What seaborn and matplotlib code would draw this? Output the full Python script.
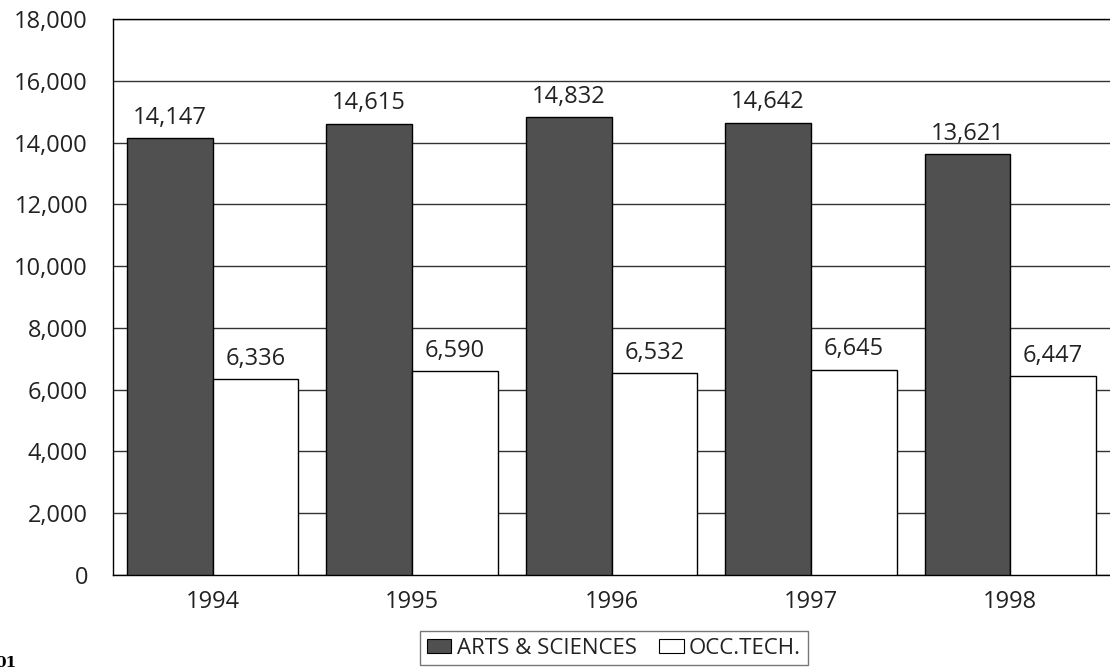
import matplotlib
matplotlib.use("Agg")
import matplotlib.pyplot as plt
import seaborn as sns
import pandas as pd
from matplotlib.patches import Patch

years = ["1994", "1995", "1996", "1997", "1998"]
series_names = ["ARTS & SCIENCES", "OCC.TECH."]
arts_sciences = [14147, 14615, 14832, 14642, 13621]
occ_tech = [6336, 6590, 6532, 6645, 6447]
y_ticks = [0, 2000, 4000, 6000, 8000, 10000, 12000, 14000, 16000, 18000]

df = pd.DataFrame({
    "year": years * 2,
    "series": [series_names[0]] * len(years) + [series_names[1]] * len(years),
    "value": arts_sciences + occ_tech,
})

sns.set_theme(style="white")
plt.rcParams["font.family"] = ["Open Sans", "DejaVu Sans"]

FS = 17
TXT = "#222222"

fig = plt.figure(figsize=(11.1, 6.67), dpi=100)
ax = fig.add_axes([113 / 1110, 1 - 575 / 667, 1 - 113 / 1110, (575 - 19) / 667])

colors = {"ARTS & SCIENCES": "#505050", "OCC.TECH.": "#ffffff"}
sns.barplot(data=df, x="year", y="value", hue="series", palette=colors,
            width=0.86, gap=0, edgecolor="black", linewidth=1.0,
            saturation=1, ax=ax, legend=False, zorder=3)

ax.set_ylim(0, 18000)
ax.set_xlim(-0.5, 4.5)
ax.set_yticks(y_ticks)
ax.set_yticklabels([f"{v:,}" for v in y_ticks])
ax.yaxis.grid(True, color="#333333", linewidth=1.0, zorder=0)
ax.set_axisbelow(True)
ax.set_xlabel("")
ax.set_ylabel("")
ax.tick_params(axis="y", length=0, pad=18, labelsize=FS, colors=TXT)
ax.tick_params(axis="x", length=0, pad=11, labelsize=FS, colors=TXT)
for s in ["left", "bottom", "top"]:
    ax.spines[s].set_color("black")
    ax.spines[s].set_linewidth(1.0)
ax.spines["right"].set_visible(False)

for cont in ax.containers:
    for bar in cont:
        h = bar.get_height()
        ax.annotate(f"{int(round(h)):,}", (bar.get_x() + bar.get_width() / 2, h),
                    xytext=(0, 10.3), textcoords="offset points",
                    ha="center", va="baseline", fontsize=FS, color=TXT)

handles = [Patch(facecolor=colors[n], edgecolor="black", linewidth=0.8) for n in series_names]
leg = fig.legend(handles, series_names, loc="upper center",
                 bbox_to_anchor=(614 / 1110, 1 - 631 / 667), ncol=2,
                 frameon=True, fancybox=False, edgecolor="#555555",
                 fontsize=16, handlelength=1.1, handleheight=0.6,
                 handletextpad=0.25, columnspacing=1.0, borderpad=0.3,
                 borderaxespad=0)
leg.get_frame().set_linewidth(1.0)
for t in leg.get_texts():
    t.set_color(TXT)

fig.text(-0.004, 1 - 656 / 667, "01", ha="left", va="top", fontsize=11,
         fontweight="bold", family="serif", color="black")

fig.savefig("out.png", dpi=100)
